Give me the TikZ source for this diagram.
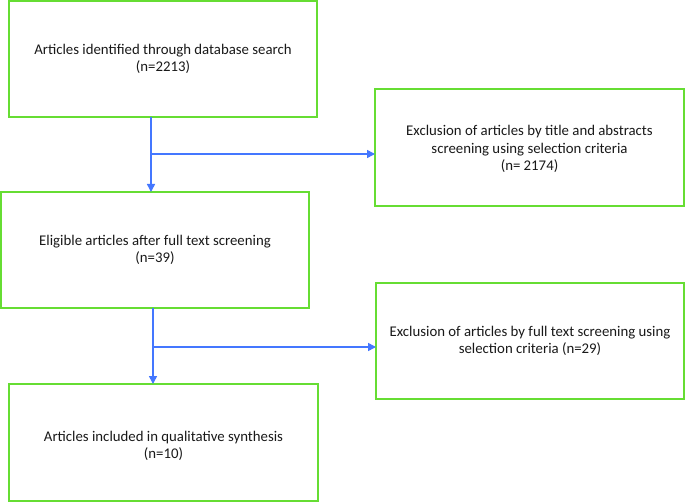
\documentclass[tikz,border=0pt]{standalone}
\usepackage{fontspec}
\setmainfont{Carlito}
\usetikzlibrary{arrows.meta}
\definecolor{boxgreen}{HTML}{66DD33}
\definecolor{arrowblue}{HTML}{4477FF}
\begin{document}
\begin{tikzpicture}[x=1bp,y=-1bp,
  flowbox/.style={draw=boxgreen,line width=1.8bp,fill=white,inner sep=0pt},
  flowtext/.style={align=center,font=\fontsize{14.8bp}{17.6bp}\selectfont,inner sep=0pt,text=black!90},
  flowarrow/.style={draw=arrowblue,line width=1.5bp,-{Triangle[length=8bp,width=8bp]}}]
\useasboundingbox (0,0) rectangle (685,502);
\fill[white] (0,0) rectangle (685,502);
% boxes
\draw[flowbox] (9,1) rectangle (317,117);
\node[flowtext] (t1) at (163,59) {Articles identified through database search\\(n=2213)};
\coordinate (b1s) at (151,117);
\draw[flowbox] (375,89) rectangle (684,206);
\node[flowtext] (t2) at (529.5,149) {Exclusion of articles by title and abstracts\\screening using selection criteria\\(n= 2174)};
\coordinate (b2w) at (375,154);
\draw[flowbox] (1,192) rectangle (309,308);
\node[flowtext] (t3) at (155,250) {Eligible articles after full text screening\\(n=39)};
\coordinate (b3n) at (151,192);
\coordinate (b3s) at (153,308);
\draw[flowbox] (376,283) rectangle (684,399);
\node[flowtext] (t4) at (530,341) {Exclusion of articles by full text screening using\\selection criteria (n=29)};
\coordinate (b4w) at (376,347);
\draw[flowbox] (9,384) rectangle (318,501);
\node[flowtext] (t5) at (163.5,446) {Articles included in qualitative synthesis\\(n=10)};
\coordinate (b5n) at (153,384);
% junctions
\coordinate (j1) at (151,154);
\coordinate (j2) at (153,347);
% arrows
\draw[flowarrow] (b1s) -- (b3n);
\draw[flowarrow] (j1) -- (b2w);
\draw[flowarrow] (b3s) -- (b5n);
\draw[flowarrow] (j2) -- (b4w);
\end{tikzpicture}
\end{document}
